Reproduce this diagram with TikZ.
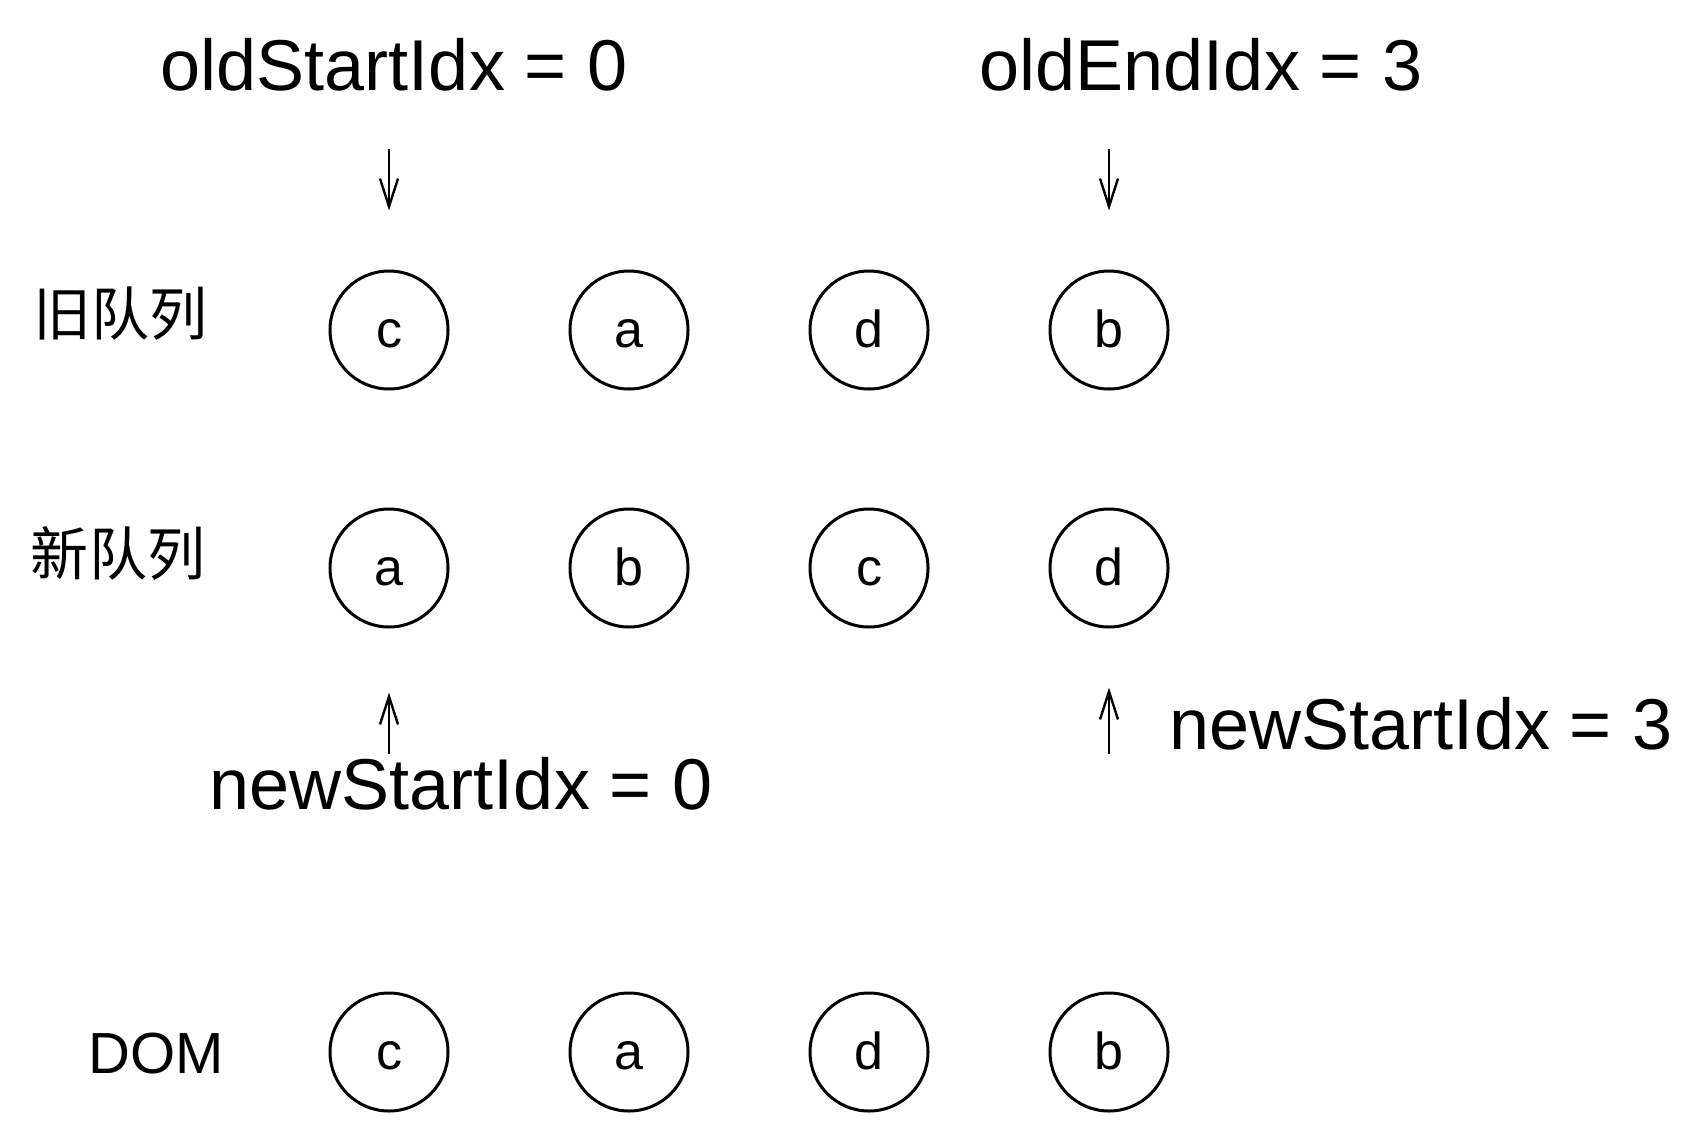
\documentclass[tikz,border=0pt]{standalone}
\usepackage{fontspec}
\setmainfont{Liberation Sans}
\newfontfamily\cjk{Noto Sans CJK SC}
\usetikzlibrary{arrows.meta}

\begin{document}
\begin{tikzpicture}[x=0.5pt,y=0.5pt,
    ball/.style={circle,draw,line width=1.5pt,minimum size=59pt,inner sep=0,
      text height=17pt,text depth=0pt,font=\fontsize{26}{26}\selectfont},
    idx/.style={inner sep=0,font=\fontsize{36}{36}\selectfont},
    queue/.style={inner sep=0,font=\cjk\fontsize{29}{29}\selectfont},
    ptr/.style={-{Straight Barb[length=14pt,width=9pt]},line width=1.2pt}]
      \useasboundingbox (0,0) rectangle (1707,-1140);
      % row labels
      \node[queue] (oldQ) at (120,-314) {旧队列};
      \node[queue] (newQ) at (118,-553) {新队列};
      \node[inner sep=0,font=\fontsize{29}{29}\selectfont] (dom) at (156,-1054) {DOM};
      % the three rows of nodes
      \foreach \l [count=\i] in {c,a,d,b}
        \node[ball] (o\i) at ({149+240*\i},-330) {\l};
      \foreach \l [count=\i] in {a,b,c,d}
        \node[ball] (n\i) at ({149+240*\i},-568) {\l};
      \foreach \l [count=\i] in {c,a,d,b}
        \node[ball] (d\i) at ({149+240*\i},-1052) {\l};
      % index pointers
      \node[idx] (oldS) at (394,-65) {oldStartIdx = 0};
      \node[idx] (oldE) at (1201,-65) {oldEndIdx = 3};
      \node[idx] (newS) at (461,-784) {newStartIdx = 0};
      \node[idx] (newE) at (1421,-724) {newStartIdx = 3};
      \coordinate (os) at (389,-149);
      \coordinate (oe) at (1109,-149);
      \coordinate (ns) at (389,-754);
      \coordinate (ne) at (1109,-754);
      \draw[ptr,shorten >=29.5pt] (os) -- (o1.north);
      \draw[ptr,shorten >=29.5pt] (oe) -- (o4.north);
      \draw[ptr,shorten >=32pt] (ns) -- (n1.south);
      \draw[ptr,shorten >=29.5pt] (ne) -- (n4.south);
    \end{tikzpicture}
\end{document}
